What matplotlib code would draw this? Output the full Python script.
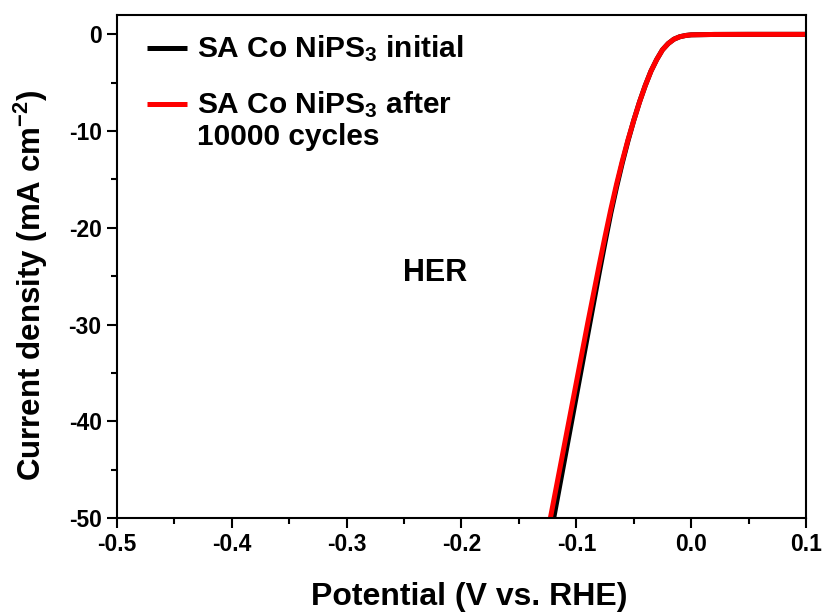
import matplotlib
matplotlib.use("Agg")
import matplotlib.pyplot as plt
from matplotlib.ticker import MultipleLocator, FormatStrFormatter

plt.rcParams['font.family'] = ['Liberation Sans', 'DejaVu Sans']
plt.rcParams['font.weight'] = 'bold'
plt.rcParams['axes.labelweight'] = 'bold'
plt.rcParams['mathtext.fontset'] = 'custom'
plt.rcParams['mathtext.rm'] = 'Liberation Sans:bold'
plt.rcParams['mathtext.bf'] = 'Liberation Sans:bold'
plt.rcParams['mathtext.default'] = 'bf'

# LSV polarisation curves (potential in V vs. RHE, current density in mA cm-2)
potential = [0.10, 0.05, 0.02, 0.0, -0.005, -0.01, -0.015, -0.02, -0.025, -0.03,
             -0.035, -0.04, -0.045, -0.05, -0.055, -0.06, -0.065, -0.07, -0.075,
             -0.08, -0.085, -0.09, -0.095, -0.10, -0.105, -0.11, -0.115, -0.12, -0.125]
j_initial = [0.0, 0.0, -0.01, -0.05, -0.12, -0.25, -0.5, -0.95, -1.6, -2.6,
             -3.8, -5.3, -7.0, -8.9, -11.0, -13.3, -15.8, -18.5, -21.5,
             -24.6, -27.8, -31.0, -34.2, -37.4, -40.6, -43.8, -47.0, -50.2, -53.4]
j_cycled = [0.0, 0.0, -0.01, -0.05, -0.12, -0.25, -0.5, -0.95, -1.6, -2.6,
            -3.8, -5.3, -7.0, -8.9, -10.9, -13.1, -15.5, -18.1, -20.9,
            -23.8, -26.8, -29.8, -32.9, -36.0, -39.1, -42.2, -45.3, -48.4, -51.5]

labels = [r'SA Co NiPS$_3$ initial', 'SA Co NiPS$_3$ after\n10000 cycles']
colors = ['black', '#ff0000']

fig = plt.figure(figsize=(8.26, 6.15), dpi=100)
ax = fig.add_axes([0.1416, 0.1577, 0.8342, 0.8179])

ax.plot(potential, j_initial, color=colors[0], lw=3.6)
ax.plot(potential, j_cycled, color=colors[1], lw=3.6)

ax.set_xlim(-0.5, 0.1)
ax.set_ylim(-50, 2)
ax.xaxis.set_major_locator(MultipleLocator(0.1))
ax.xaxis.set_minor_locator(MultipleLocator(0.05))
ax.yaxis.set_major_locator(MultipleLocator(10))
ax.yaxis.set_minor_locator(MultipleLocator(5))
ax.xaxis.set_major_formatter(FormatStrFormatter('%.1f'))
ax.yaxis.set_major_formatter(FormatStrFormatter('%d'))

ax.tick_params(which='major', direction='out', length=7, width=1.5, labelsize=16.5, pad=4)
ax.tick_params(which='minor', direction='out', length=4, width=1.5)
for sp in ax.spines.values():
    sp.set_linewidth(1.5)

ax.set_xlabel('Potential (V vs. RHE)', fontsize=23)
ax.set_ylabel(r'Current density (mA cm$^{-2}$)', fontsize=22.5)
ax.xaxis.set_label_coords(0.511, -0.127)
ax.yaxis.set_label_coords(-0.097, 0.463)

ax.text(-0.223, -24.7, 'HER', fontsize=22, ha='center', va='center')

# legend drawn by hand so the red handle sits on the first text line
handle_y = [0.934, 0.823]
for lab, col, hy in zip(labels, colors, handle_y):
    ax.plot([0.0435, 0.1016], [hy, hy], color=col, lw=3.6, transform=ax.transAxes,
            solid_capstyle='butt')
    multi = '\n' in lab
    ax.text(0.116, hy + (0.03 if multi else 0.0), lab, fontsize=21.5,
            transform=ax.transAxes, ha='left', va='top' if multi else 'center',
            linespacing=1.15)

fig.savefig('out.png', dpi=100)
